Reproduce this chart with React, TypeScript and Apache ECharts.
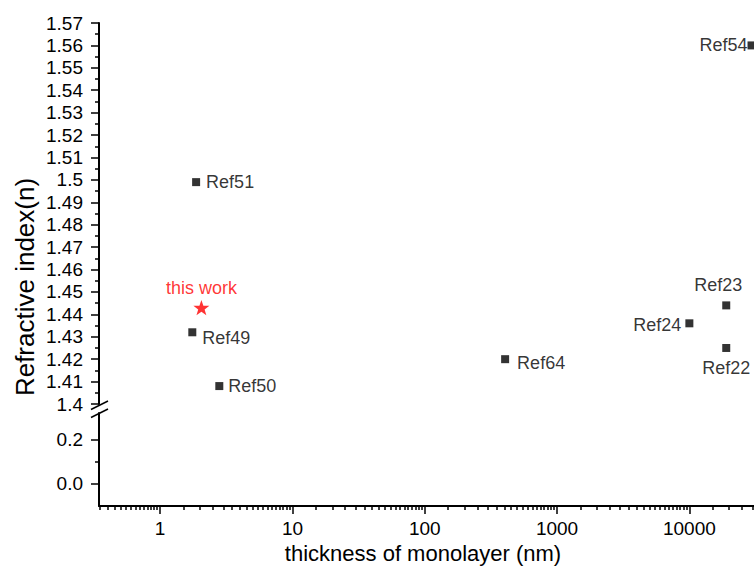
import { useEffect, useRef } from 'react';
import * as echarts from 'echarts';

// ---- data ----
const refNames = ['Ref51', 'Ref49', 'Ref50', 'Ref64', 'Ref24', 'Ref23', 'Ref22', 'Ref54'];
const refThickness = [1.87, 1.75, 2.8, 405, 10000, 19000, 19000, 29500];
const refIndex = [1.499, 1.432, 1.408, 1.42, 1.436, 1.444, 1.425, 1.56];

const thisWorkName = ['this work'];
const thisWorkThickness = [2.05];
const thisWorkIndex = [1.443];

// ---- axis ticks ----
const xMajorTicks = [1, 10, 100, 1000, 10000];
const xDecades = [0.1, 1, 10, 100, 1000, 10000];
const xMinorMultipliers = [1.5, 2, 2.5, 3, 3.5, 4, 4.5, 5, 5.5, 6, 6.5, 7, 7.5, 8, 8.5, 9, 9.5];
const lowerYLabels = [0, 0.2];
const lowerYMinor = [0.1];

const X_MIN = 0.345;
const X_MAX = 30800;

// label placements (style only)
const labelStyle: Record<string, any> = {
  Ref51: { position: 'right', distance: 6 },
  Ref49: { position: 'right', distance: 6, offset: [0, 6] },
  Ref50: { position: 'right', distance: 5 },
  Ref64: { position: 'right', distance: 8, offset: [0, 4] },
  Ref24: { position: 'left', distance: 4, offset: [0, 2] },
  Ref23: { position: 'top', distance: 7, offset: [-8, 0] },
  Ref22: { position: 'bottom', distance: 7 },
  Ref54: { position: 'left', distance: 0 },
};

const FONT = '"Liberation Sans", Arial, sans-serif';
const STAR = 'path://M0,-10 L2.35,-3.24 9.51,-3.09 3.8,1.24 5.88,8.09 0,4 -5.88,8.09 -3.8,1.24 -9.51,-3.09 -2.35,-3.24 Z';

export default function App() {
  const ref = useRef<HTMLDivElement>(null);
  useEffect(() => {
    document.body.style.margin = '0';
    const chart = echarts.init(ref.current!, null, { renderer: 'svg' });

    const xMinor: number[] = [];
    xDecades.forEach((d) =>
      xMinorMultipliers.forEach((m) => {
        const v = +(m * d).toPrecision(6);
        if (v >= X_MIN && v <= X_MAX) xMinor.push(v);
      })
    );

    const refData = refNames.map((n, i) => ({
      name: n,
      value: [refThickness[i], refIndex[i]],
      label: labelStyle[n],
    }));
    const workData = thisWorkName.map((n, i) => ({
      name: n,
      value: [thisWorkThickness[i], thisWorkIndex[i]],
    }));

    const axisLine = { show: true, onZero: false, lineStyle: { color: '#000', width: 2 } };
    const tickLine = { color: '#000', width: 1.5 };

    chart.setOption({
      animation: false,
      backgroundColor: '#ffffff',
      textStyle: { fontFamily: FONT },
      grid: [
        { left: 99, right: 0, top: 23, height: 381, outerBoundsMode: 'none', containLabel: false },
        { left: 99, right: 0, top: 413, height: 93, outerBoundsMode: 'none', containLabel: false },
      ],
      xAxis: [
        { type: 'log', gridIndex: 0, min: X_MIN, max: X_MAX, show: false },
        {
          type: 'log',
          gridIndex: 1,
          min: X_MIN,
          max: X_MAX,
          position: 'bottom',
          axisLine,
          axisTick: { show: true, customValues: xMajorTicks, length: 8, lineStyle: tickLine },
          axisLabel: {
            customValues: xMajorTicks,
            formatter: (v: number) => String(v),
            fontSize: 19,
            color: '#000',
            fontFamily: FONT,
            margin: 13,
          },
          splitLine: { show: false },
        },
        {
          type: 'log',
          gridIndex: 1,
          min: X_MIN,
          max: X_MAX,
          position: 'bottom',
          axisLine: { show: false, onZero: false },
          axisTick: { show: true, customValues: xMinor, length: 4, lineStyle: tickLine },
          axisLabel: { show: false },
          splitLine: { show: false },
        },
      ],
      yAxis: [
        {
          type: 'value',
          gridIndex: 0,
          min: 1.4,
          max: 1.57,
          interval: 0.01,
          position: 'left',
          axisLine,
          axisTick: { show: true, length: 8, lineStyle: tickLine },
          minorTick: { show: true, splitNumber: 2, length: 4, lineStyle: tickLine },
          axisLabel: { fontSize: 19, color: '#000', fontFamily: FONT, margin: 16 },
          splitLine: { show: false },
        },
        {
          type: 'value',
          gridIndex: 1,
          min: -0.1,
          max: 0.32,
          position: 'left',
          axisLine,
          axisTick: { show: true, customValues: lowerYLabels, length: 8, lineStyle: tickLine },
          axisLabel: {
            customValues: lowerYLabels,
            formatter: (v: number) => v.toFixed(1),
            fontSize: 19,
            color: '#000',
            fontFamily: FONT,
            margin: 16,
          },
          splitLine: { show: false },
        },
        {
          type: 'value',
          gridIndex: 1,
          min: -0.1,
          max: 0.32,
          position: 'left',
          axisLine: { show: false, onZero: false },
          axisTick: { show: true, customValues: lowerYMinor, length: 4, lineStyle: tickLine },
          axisLabel: { show: false },
          splitLine: { show: false },
        },
      ],
      series: [
        {
          type: 'scatter',
          xAxisIndex: 0,
          yAxisIndex: 0,
          symbol: 'rect',
          symbolSize: 8,
          itemStyle: { color: '#000' },
          label: {
            show: true,
            formatter: '{b}',
            fontSize: 18,
            color: '#000',
            fontFamily: FONT,
          },
          data: refData,
          clip: false,
        },
        {
          type: 'scatter',
          xAxisIndex: 0,
          yAxisIndex: 0,
          symbol: STAR,
          symbolSize: 16,
          symbolKeepAspect: true,
          itemStyle: { color: '#ff0000' },
          label: {
            show: true,
            position: 'top',
            distance: 3,
            formatter: '{b}',
            fontSize: 18,
            color: '#ff0000',
            fontFamily: FONT,
          },
          data: workData,
        },
      ],
      graphic: [
        {
          type: 'line',
          shape: { x1: 91, y1: 409.5, x2: 108, y2: 401 },
          style: { stroke: '#000', lineWidth: 1.5 },
        },
        {
          type: 'line',
          shape: { x1: 91, y1: 417.5, x2: 108, y2: 409 },
          style: { stroke: '#000', lineWidth: 1.5 },
        },
        {
          type: 'text',
          x: 423,
          y: 553,
          style: {
            text: 'thickness of monolayer (nm)',
            font: `22px ${FONT}`,
            fill: '#000',
            align: 'center',
            verticalAlign: 'middle',
          },
        },
        {
          type: 'text',
          x: 25,
          y: 287,
          rotation: Math.PI / 2,
          style: {
            text: 'Refractive index(n)',
            font: `26px ${FONT}`,
            fill: '#000',
            align: 'center',
            verticalAlign: 'middle',
          },
        },
      ],
    });
    return () => chart.dispose();
  }, []);
  return <div ref={ref} style={{ width: 754, height: 567 }} />;
}
